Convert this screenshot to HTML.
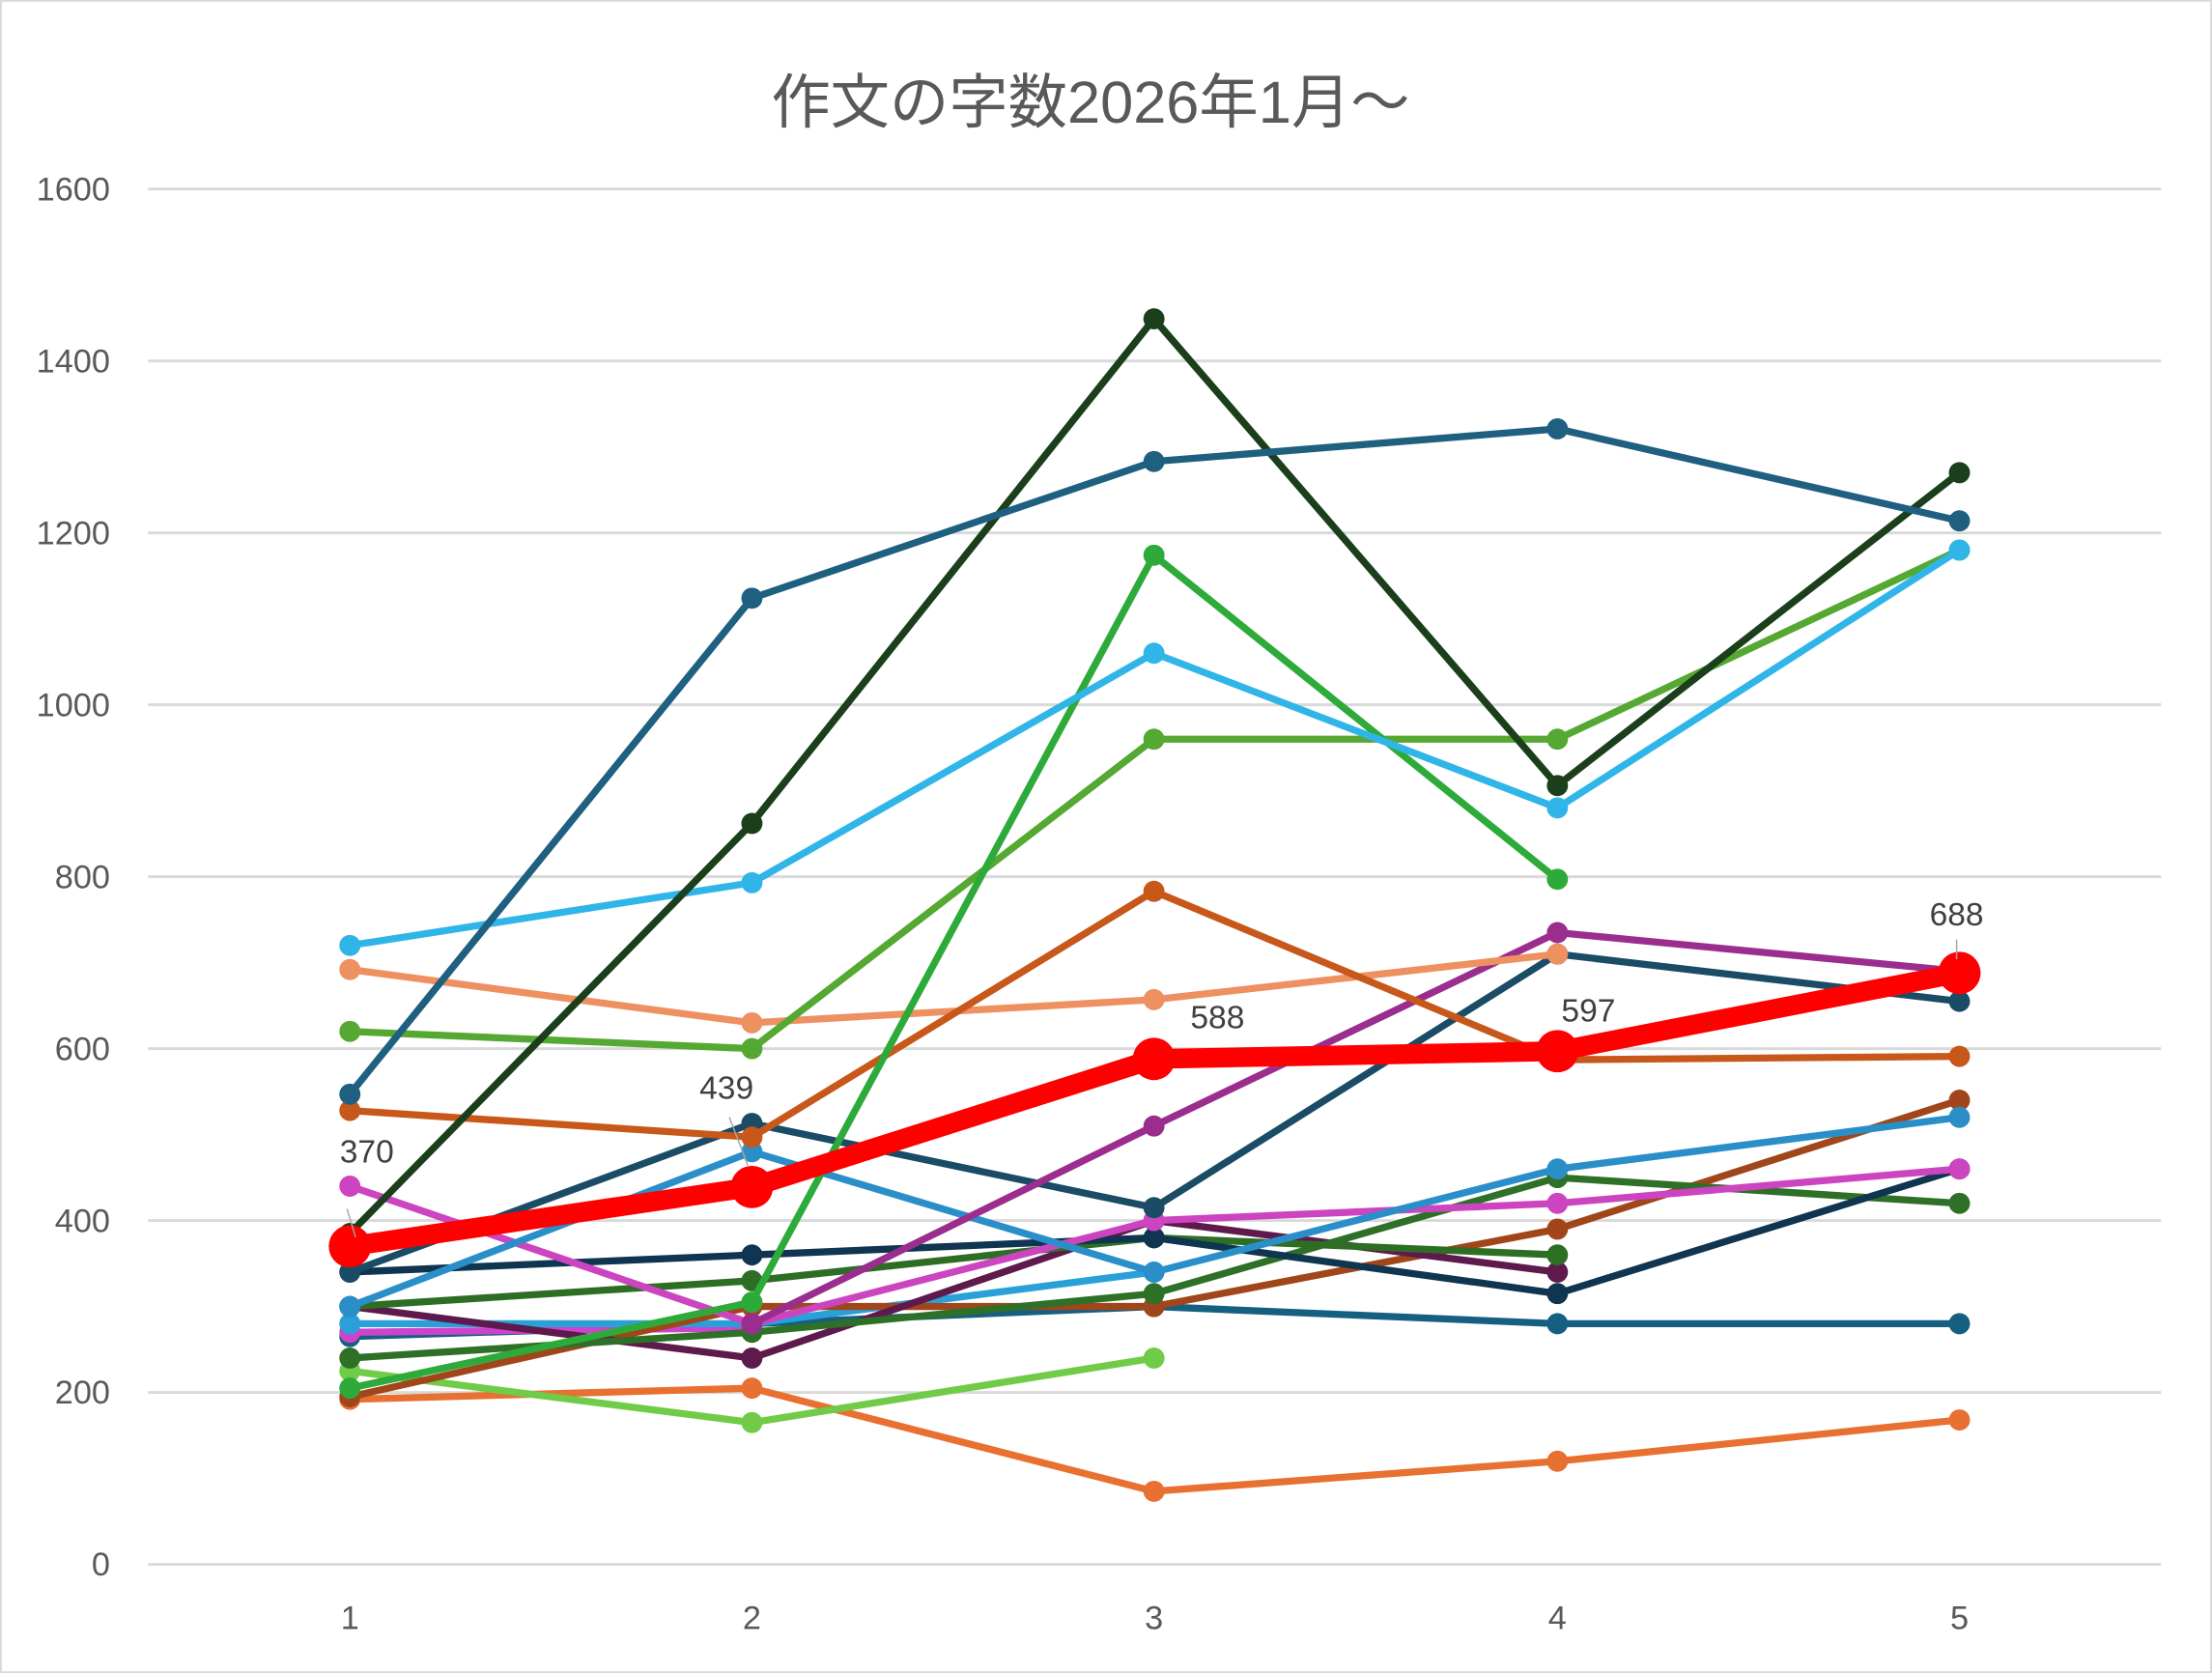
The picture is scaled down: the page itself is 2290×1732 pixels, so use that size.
<!DOCTYPE html>
<html><head><meta charset="utf-8"><style>
html,body{margin:0;padding:0;background:#fff;}
svg{display:block;}
</style></head><body>
<svg id="c" width="2290" height="1732" viewBox="0 0 1568 1186" xmlns="http://www.w3.org/2000/svg">
<rect x="0.5" y="0.5" width="1567" height="1185" fill="#fff" stroke="#d9d9d9" stroke-width="1.5"/>
<text x="773" y="87" text-anchor="middle" font-family="Liberation Sans, Noto Sans CJK JP, sans-serif" font-size="42" fill="#595959">作文の字数2026年1月～</text>
<g id="grid"></g>
<g id="series"></g>
<g font-family="Liberation Sans, sans-serif" font-size="23" fill="#404040">
<line x1="246" y1="857" x2="252" y2="877" stroke="#a6a6a6" stroke-width="1"/>
<text x="260" y="824" text-anchor="middle">370</text>
<line x1="517" y1="792" x2="530" y2="826" stroke="#a6a6a6" stroke-width="1"/>
<text x="515" y="779" text-anchor="middle">439</text>
<text x="863" y="729" text-anchor="middle">588</text>
<text x="1126" y="724" text-anchor="middle">597</text>
<line x1="1387" y1="666" x2="1387" y2="680" stroke="#a6a6a6" stroke-width="1"/>
<text x="1387" y="656" text-anchor="middle">688</text>
</g>
</svg>
<script>
var NS="http://www.w3.org/2000/svg";
function el(p,t,a){var e=document.createElementNS(NS,t);for(var k in a)e.setAttribute(k,a[k]);p.appendChild(e);return e;}
var g=document.getElementById('grid'),s=document.getElementById('series');
function Y(v){return 1109-v*0.609375;}
var X=[248,533,818,1104,1389];
for(var v=0;v<=1600;v+=200){
 el(g,'line',{x1:105,x2:1532,y1:Y(v),y2:Y(v),stroke:'#d9d9d9','stroke-width':2});
 var t=el(g,'text',{x:78,y:Y(v)+8,'text-anchor':'end','font-family':'Liberation Sans, sans-serif','font-size':23.5,fill:'#595959'});t.textContent=v;
}
for(var i=0;i<5;i++){var t=el(g,'text',{x:X[i],y:1155,'text-anchor':'middle','font-family':'Liberation Sans, sans-serif','font-size':23.5,fill:'#595959'});t.textContent=i+1;}
var S=[
['#e87030',[192,205,85,120,168]],
['#70cc48',[225,165,240]],
['#156080',[265,280,300,280,280]],
['#cc44cc',[270,275]],
['#2aa0d8',[280,280,340]],
['#a0461a',[195,300,300,390,540]],
['#5e1a4c',[300,240,400,340]],
['#2e7028',[240,270,315,450,420]],
['#2d6e24',[300,330,380,360]],
['#0f3550',[340,360,380,315,460]],
['#cc44c0',[440,280,400,420,460]],
['#2a8fc8',[300,480,340,460,520]],
['#1a4c66',[340,513,415,710,655]],
['#9b2d8e',[null,280,510,735,690]],
['#ee9060',[692,630,657,710]],
['#c8571a',[528,497,783,587,591]],
['#55a832',[620,600,960,960,1180]],
['#2eaa3a',[205,305,1174,797]],
['#30b5e8',[720,793,1060,880,1180]],
['#1a3f1a',[385,862,1449,906,1270]],
['#1f5f80',[547,1124,1283,1321,1214]]
];
S.forEach(function(d){
 var pts=[];d[1].forEach(function(v,i){if(v!=null)pts.push(X[i]+','+Y(v));});
 el(s,'polyline',{points:pts.join(' '),fill:'none',stroke:d[0],'stroke-width':5,'stroke-linejoin':'round'});
 d[1].forEach(function(v,i){if(v!=null)el(s,'circle',{cx:X[i],cy:Y(v),r:7.5,fill:d[0]});});
});
var R=[370,439,588,597,688];
el(s,'polyline',{points:R.map(function(v,i){return X[i]+','+Y(v);}).join(' '),fill:'none',stroke:'#ff0000','stroke-width':14,'stroke-linejoin':'round'});
R.forEach(function(v,i){el(s,'circle',{cx:X[i],cy:Y(v),r:15,fill:'#ff0000'});});
</script>
</body></html>
